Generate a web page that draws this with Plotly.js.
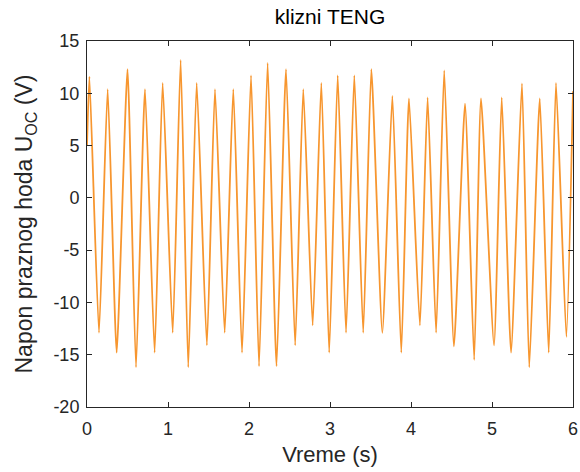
<!DOCTYPE html>
<html>
<head>
<meta charset="utf-8">
<script src="https://cdn.plot.ly/plotly-3.0.1.min.js"></script>
<style>html,body{margin:0;padding:0;background:#fff;}#chart{width:580px;height:472px;}</style>
</head>
<body>
<div id="chart"></div>
<script>
// Time (s) of successive turning points of the signal
const timeS = [0, 0.03, 0.148, 0.255, 0.366, 0.50, 0.605, 0.716, 0.835, 0.934, 1.058, 1.156, 1.25, 1.354, 1.48, 1.58, 1.70, 1.806, 1.914, 2.025, 2.124, 2.23, 2.34, 2.457, 2.57, 2.67, 2.786, 2.893, 2.99, 3.095, 3.198, 3.30, 3.41, 3.51, 3.646, 3.77, 3.88, 3.975, 4.11, 4.205, 4.31, 4.41, 4.53, 4.667, 4.78, 4.864, 5.025, 5.12, 5.235, 5.37, 5.46, 5.59, 5.70, 5.79, 5.918, 6.0];
// Open-circuit voltage (V) at those points
const voltageV = [5, 11.6, -12.9, 10.4, -14.8, 12.3, -16.2, 10.4, -14.8, 11.0, -12.9, 13.2, -16.2, 11.0, -14.1, 10.4, -12.9, 10.4, -14.8, 11.7, -16.1, 12.9, -16.1, 12.3, -14.1, 10.4, -12.2, 11.0, -14.8, 11.7, -12.9, 11.7, -12.9, 12.3, -12.9, 9.75, -14.8, 9.5, -12.2, 9.6, -12.9, 12.2, -14.2, 9.0, -15.5, 9.5, -14.1, 9.6, -14.8, 10.95, -16.2, 9.5, -14.8, 11.0, -13.3, 10.2];
const xTicks = [0, 1, 2, 3, 4, 5, 6];
const yTicks = [-20, -15, -10, -5, 0, 5, 10, 15];

const font = "Liberation Sans, Arial, Helvetica, sans-serif";
const axisCommon = {
  showgrid: false, zeroline: false, showline: true, linecolor: '#262626', linewidth: 1,
  mirror: 'ticks', ticks: 'inside', ticklen: 5, tickcolor: '#262626', tickwidth: 1,
  tickfont: {family: font, size: 18, color: '#262626'}, tickmode: 'array'
};
Plotly.newPlot('chart', [{
  x: timeS, y: voltageV, type: 'scatter', mode: 'lines',
  line: {color: '#F7962F', width: 1.8, shape: 'spline', smoothing: 0.5}, hoverinfo: 'skip'
}], {
  width: 580, height: 472,
  margin: {l: 87, r: 7, t: 41, b: 65},
  paper_bgcolor: '#fff', plot_bgcolor: '#fff', showlegend: false,
  title: {text: 'klizni TENG', font: {family: font, size: 21, color: '#000'}, xref: 'paper', x: 0.5, xanchor: 'center', y: 0.981, yanchor: 'top'},
  xaxis: Object.assign({}, axisCommon, {range: [0, 6], tickvals: xTicks, ticktext: xTicks.map(String), ticklabelstandoff: 5,
    title: {text: 'Vreme (s)', font: {family: font, size: 22, color: '#262626'}, standoff: 9}}),
  yaxis: Object.assign({}, axisCommon, {range: [-20, 15], tickvals: yTicks, ticktext: yTicks.map(String), ticklabelstandoff: 3,
    title: {text: 'Napon praznog hoda U<sub>OC</sub> (V)', font: {family: font, size: 23, color: '#262626'}, standoff: 14}})
}, {staticPlot: true});
</script>
</body>
</html>
